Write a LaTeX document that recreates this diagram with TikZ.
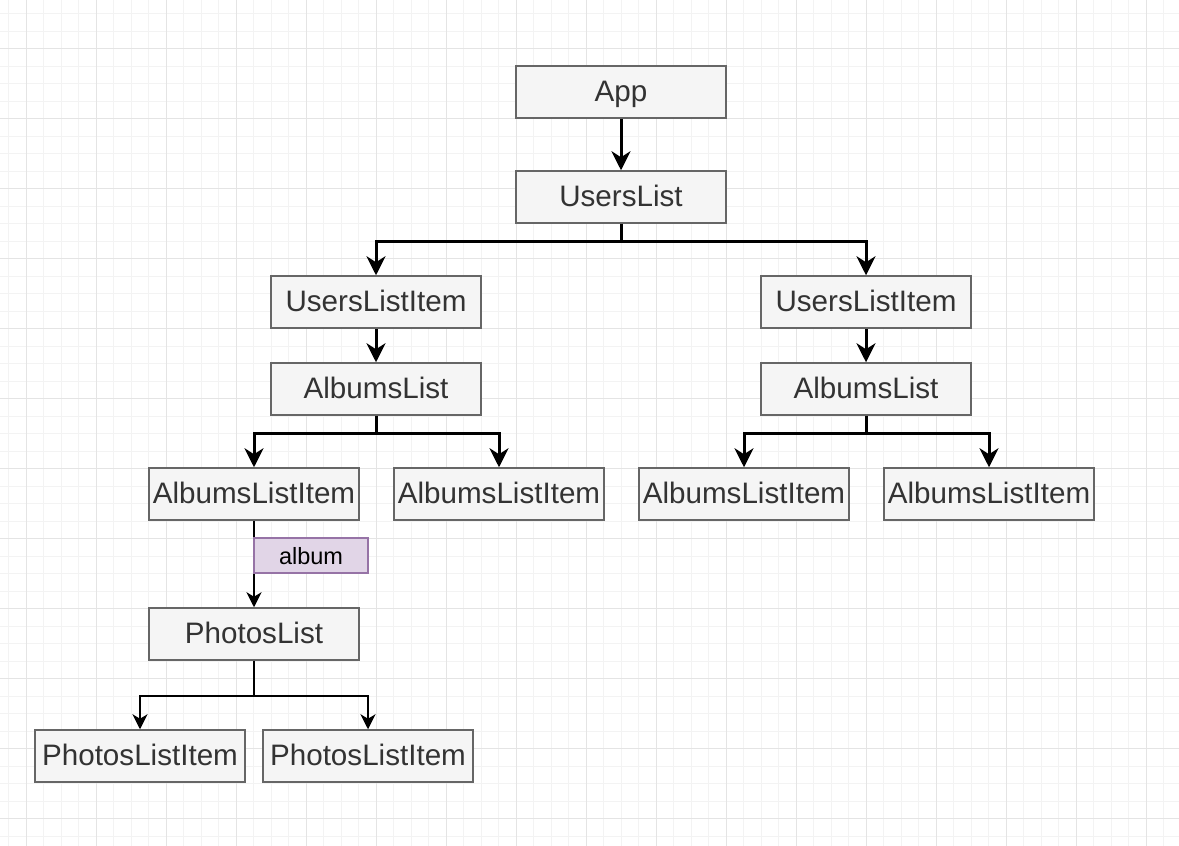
\documentclass[tikz,border=0pt]{standalone}
\usepackage{fontspec}
\setmainfont{Liberation Sans}
\usetikzlibrary{arrows.meta}
\definecolor{boxfill}{HTML}{F5F5F5}
\definecolor{boxline}{HTML}{666666}
\definecolor{boxtext}{HTML}{333333}
\definecolor{lblfill}{HTML}{E1D5E7}
\definecolor{lblline}{HTML}{9673A6}
\definecolor{gridminor}{HTML}{F3F3F3}
\definecolor{gridmajor}{HTML}{E4E4E4}
\begin{document}
\begin{tikzpicture}[x=1pt,y=-1pt,
  comp/.style={draw=boxline,fill=boxfill,line width=1.5pt,minimum width=210pt,minimum height=52pt,inner sep=0pt,text height=24pt,text depth=6pt,text=boxtext,font=\fontsize{29.6}{32}\selectfont},
  lbl/.style={draw=lblline,fill=lblfill,line width=1.2pt,minimum width=114pt,minimum height=35pt,inner sep=0pt,text height=20pt,text depth=2.4pt,text=black,font=\fontsize{23.5}{26}\selectfont},
  bigedge/.style={line width=3pt,-{Stealth[length=19pt,width=19pt,inset=6pt]}},
  smalledge/.style={line width=2pt,-{Stealth[length=15pt,width=15pt,inset=4.5pt]}}
]
\useasboundingbox (0,0) rectangle (1179,846);
\fill[white] (0,0) rectangle (1179,846);
% grid
\foreach \i in {0,...,67} \draw[gridminor,line width=1pt] ({8.75+17.5*\i},0) -- ({8.75+17.5*\i},846);
\foreach \j in {0,...,48} \draw[gridminor,line width=1pt] (0,{13.5+17.5*\j}) -- (1179,{13.5+17.5*\j});
\foreach \i in {0,...,16} \draw[gridmajor,line width=1pt] ({26.25+70*\i},0) -- ({26.25+70*\i},846);
\foreach \j in {0,...,11} \draw[gridmajor,line width=1pt] (0,{48.5+70*\j}) -- (1179,{48.5+70*\j});
% nodes
\node[comp] (app) at (621,92) {App};
\node[comp] (ul) at (621,197) {UsersList};
\node[comp] (uli1) at (376,302) {UsersListItem};
\node[comp] (uli2) at (866,302) {UsersListItem};
\node[comp] (al1) at (376,389) {AlbumsList};
\node[comp] (al2) at (866,389) {AlbumsList};
\node[comp] (ali1) at (254,494) {AlbumsListItem};
\node[comp] (ali2) at (499,494) {AlbumsListItem};
\node[comp] (ali3) at (744,494) {AlbumsListItem};
\node[comp] (ali4) at (989,494) {AlbumsListItem};
\node[comp] (pl) at (254,634) {PhotosList};
\node[comp] (pli1) at (140,756) {PhotosListItem};
\node[comp] (pli2) at (368,756) {PhotosListItem};
% edges
\draw[bigedge] (app) -- (ul);
\draw[bigedge] (ul.south) -- ++(0,18) -| (uli1.north);
\draw[bigedge] (ul.south) -- ++(0,18) -| (uli2.north);
\draw[bigedge] (uli1) -- (al1);
\draw[bigedge] (uli2) -- (al2);
\draw[bigedge] (al1.south) -- ++(0,18) -| (ali1.north);
\draw[bigedge] (al1.south) -- ++(0,18) -| (ali2.north);
\draw[bigedge] (al2.south) -- ++(0,18) -| (ali3.north);
\draw[bigedge] (al2.south) -- ++(0,18) -| (ali4.north);
\draw[smalledge] (ali1) -- (pl);
\draw[smalledge] (pl.south) -- ++(0,35) -| (pli1.north);
\draw[smalledge] (pl.south) -- ++(0,35) -| (pli2.north);
\node[lbl] (album) at (311,555.5) {album};
\end{tikzpicture}
\end{document}
